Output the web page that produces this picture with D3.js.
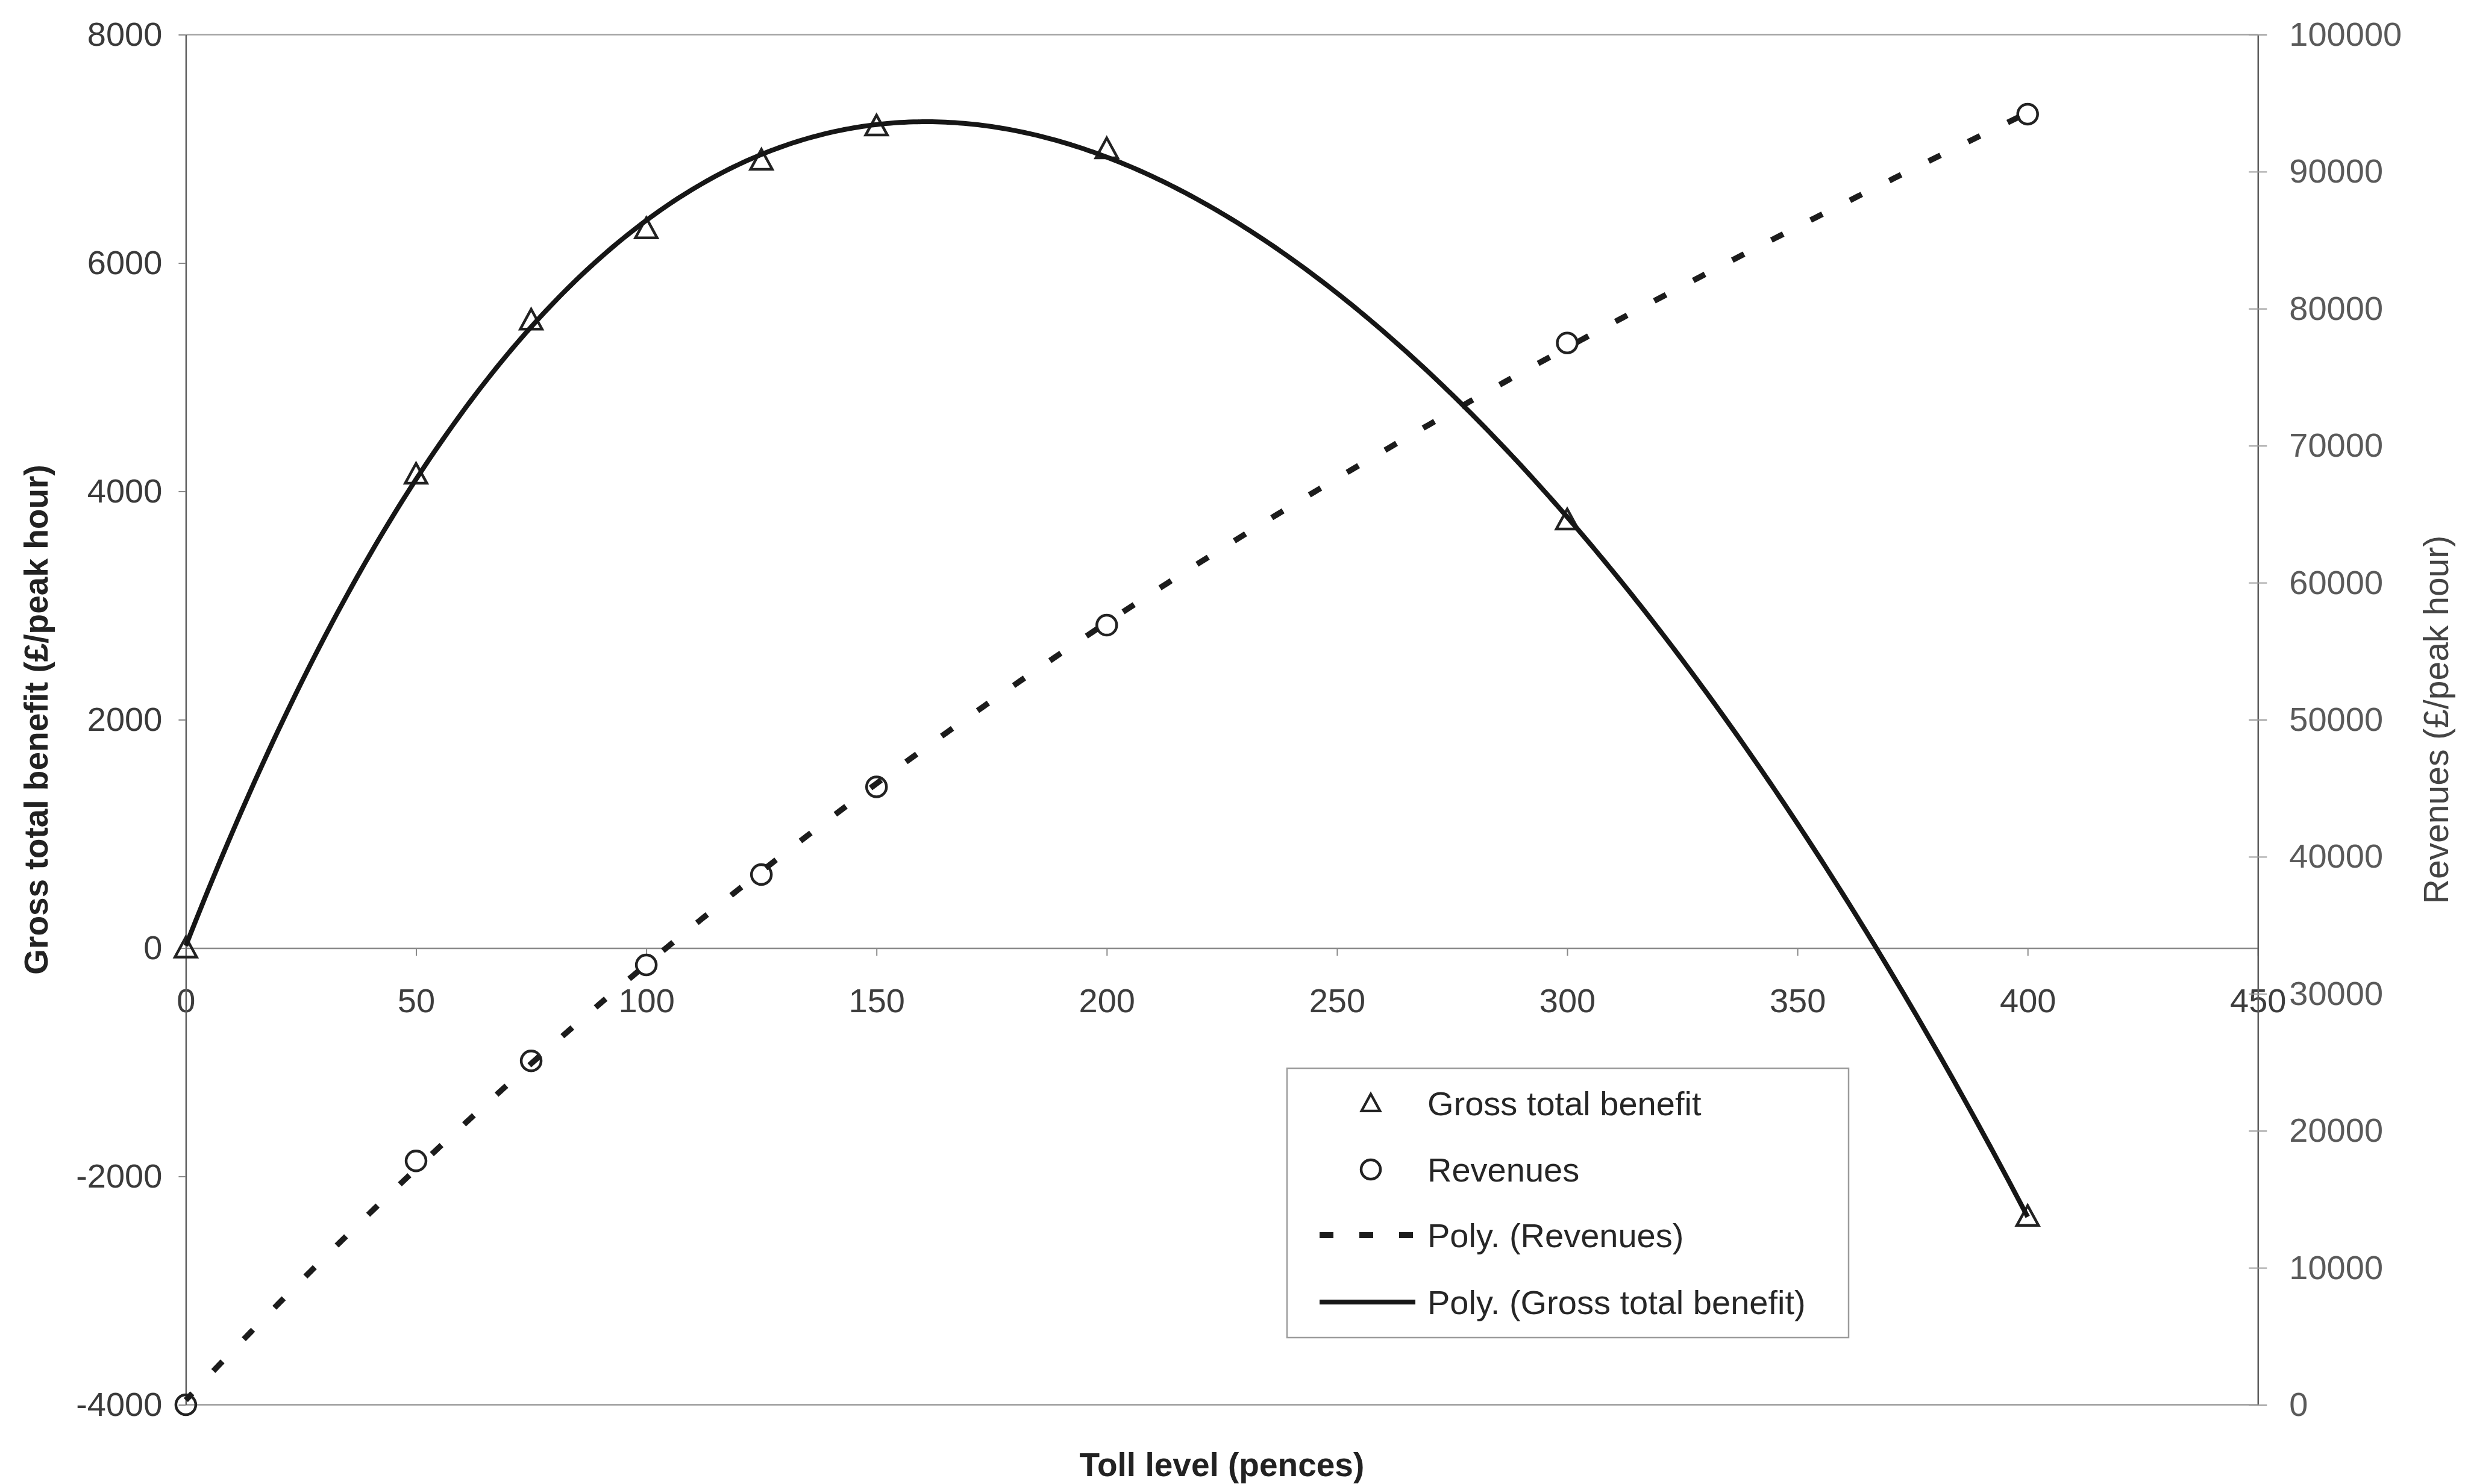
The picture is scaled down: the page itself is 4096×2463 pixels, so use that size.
<!DOCTYPE html>
<html>
<head>
<meta charset="utf-8">
<script src="https://cdn.jsdelivr.net/npm/d3@7"></script>
<style>
  html, body { margin: 0; padding: 0; background: #ffffff; }
  svg { display: block; }
  text { font-family: "Liberation Sans", Arial, Helvetica, sans-serif; }
</style>
</head>
<body>
<script>
// Toll levels (pence) and the two observed series
const tollLevels   = [0, 50, 75, 100, 125, 150, 200, 300, 400];
const grossBenefit = [0, 4150, 5500, 6300, 6900, 7200, 7000, 3750, -2350];   // £/peak hour, left axis
const revenues     = [0, 17800, 25100, 32100, 38700, 45100, 56900, 77500, 94200]; // £/peak hour, right axis

// Axis ticks
const xTicks     = [0, 50, 100, 150, 200, 250, 300, 350, 400, 450];
const leftTicks  = [-4000, -2000, 0, 2000, 4000, 6000, 8000];
const rightTicks = [0, 10000, 20000, 30000, 40000, 50000, 60000, 70000, 80000, 90000, 100000];

// Titles and legend
const xTitle = "Toll level (pences)";
const leftTitle = "Gross total benefit (£/peak hour)";
const rightTitle = "Revenues (£/peak hour)";
const legendLabels = ["Gross total benefit", "Revenues", "Poly. (Revenues)", "Poly. (Gross total benefit)"];

// Polynomial trendline orders
const revenueOrder = 3;
const benefitOrder = 4;

const W = 4096, H = 2463;
const plot = { left: 308.4, right: 3747.3, top: 57.5, bottom: 2331.5 };
const plainNumber = d => String(d);

const svg = d3.select("body").append("svg")
  .attr("width", W).attr("height", H)
  .attr("viewBox", `0 0 ${W} ${H}`);

svg.append("rect").attr("width", W).attr("height", H).attr("fill", "#ffffff");

const x  = d3.scaleLinear().domain([0, 450]).range([plot.left, plot.right]);
const yL = d3.scaleLinear().domain([-4000, 8000]).range([plot.bottom, plot.top]);
const yR = d3.scaleLinear().domain([0, 100000]).range([plot.bottom, plot.top]);

// Least-squares polynomial fit (normal equations, scaled abscissa)
function polyFit(xs, ys, deg) {
  const s = 100, n = deg + 1;
  const A = Array.from({ length: n }, () => new Array(n + 1).fill(0));
  xs.forEach((xv, i) => {
    const t = xv / s;
    for (let r = 0; r < n; r++) {
      for (let c = 0; c < n; c++) A[r][c] += Math.pow(t, r + c);
      A[r][n] += ys[i] * Math.pow(t, r);
    }
  });
  for (let i = 0; i < n; i++) {
    let p = i;
    for (let k = i + 1; k < n; k++) if (Math.abs(A[k][i]) > Math.abs(A[p][i])) p = k;
    [A[i], A[p]] = [A[p], A[i]];
    for (let k = i + 1; k < n; k++) {
      const f = A[k][i] / A[i][i];
      for (let c = i; c <= n; c++) A[k][c] -= f * A[i][c];
    }
  }
  const coef = new Array(n).fill(0);
  for (let i = n - 1; i >= 0; i--) {
    let v = A[i][n];
    for (let c = i + 1; c < n; c++) v -= A[i][c] * coef[c];
    coef[i] = v / A[i][i];
  }
  return xv => coef.reduce((acc, c, k) => acc + c * Math.pow(xv / s, k), 0);
}

const revFit = polyFit(tollLevels, revenues, revenueOrder);
const benFit = polyFit(tollLevels, grossBenefit, benefitOrder);
const xMin = d3.min(tollLevels), xMax = d3.max(tollLevels);
const fitX = d3.range(xMin, xMax + 0.001, 1);

// Frame: top and bottom borders
svg.append("line")
  .attr("x1", plot.left).attr("x2", plot.right)
  .attr("y1", plot.top).attr("y2", plot.top)
  .attr("stroke", "#a3a3a3").attr("stroke-width", 2.5);
svg.append("line")
  .attr("x1", plot.left).attr("x2", plot.right)
  .attr("y1", plot.bottom).attr("y2", plot.bottom)
  .attr("stroke", "#9a9a9a").attr("stroke-width", 2.5);

const tickFont = 56;

// Horizontal axis, crossing at zero on the left scale
const gx = svg.append("g")
  .attr("transform", `translate(0,${yL(0)})`)
  .call(d3.axisBottom(x).tickValues(xTicks).tickFormat(plainNumber)
    .tickSize(13).tickSizeOuter(0).tickPadding(54));
gx.select(".domain").attr("stroke", "#8a8a8a").attr("stroke-width", 2.5);
gx.selectAll(".tick line").attr("stroke", "#8a8a8a").attr("stroke-width", 2);
gx.selectAll(".tick text").attr("font-size", tickFont).attr("fill", "#3d3d3d")
  .attr("font-family", "'Liberation Sans', Arial, sans-serif");

// Left axis
const gl = svg.append("g")
  .attr("transform", `translate(${plot.left},0)`)
  .call(d3.axisLeft(yL).tickValues(leftTicks).tickFormat(plainNumber)
    .tickSize(12).tickSizeOuter(0).tickPadding(27));
gl.select(".domain").attr("stroke", "#5e5e5e").attr("stroke-width", 2.5);
gl.selectAll(".tick line").attr("stroke", "#8a8a8a").attr("stroke-width", 2);
gl.selectAll(".tick text").attr("font-size", tickFont).attr("fill", "#3a3a3a")
  .attr("font-family", "'Liberation Sans', Arial, sans-serif");

// Right axis
const gr = svg.append("g")
  .attr("transform", `translate(${plot.right},0)`)
  .call(d3.axisRight(yR).tickValues(rightTicks).tickFormat(plainNumber)
    .tickSize(15).tickSizeOuter(0).tickPadding(37));
gr.select(".domain").attr("stroke", "#5e5e5e").attr("stroke-width", 2.5);
gr.selectAll(".tick line").attr("x1", -15).attr("stroke", "#9a9a9a").attr("stroke-width", 2);
gr.selectAll(".tick text").attr("font-size", tickFont).attr("fill", "#5a5a5a")
  .attr("font-family", "'Liberation Sans', Arial, sans-serif");

// Axis titles
svg.append("text")
  .attr("x", x(225)).attr("y", 2431).attr("dy", "0.35em")
  .attr("text-anchor", "middle").attr("font-size", 55).attr("font-weight", "bold")
  .attr("fill", "#222").text(xTitle);

svg.append("text")
  .attr("transform", `translate(60,${(plot.top + plot.bottom) / 2}) rotate(-90)`)
  .attr("dy", "0.35em")
  .attr("text-anchor", "middle").attr("font-size", 55).attr("font-weight", "bold")
  .attr("fill", "#222").text(leftTitle);

svg.append("text")
  .attr("transform", `translate(4043,${(plot.top + plot.bottom) / 2}) rotate(-90)`)
  .attr("dy", "0.35em")
  .attr("text-anchor", "middle").attr("font-size", 57)
  .attr("fill", "#444").text(rightTitle);

// Markers (hollow)
const markerStroke = "#222";
const triPath = "M0,-18L18,15L-18,15Z";

svg.append("g").selectAll("path")
  .data(tollLevels.map((t, i) => [t, grossBenefit[i]]))
  .join("path")
  .attr("d", triPath)
  .attr("transform", d => `translate(${x(d[0])},${yL(d[1])})`)
  .attr("fill", "none").attr("stroke", markerStroke).attr("stroke-width", 4.5)
  .attr("stroke-linejoin", "miter");

svg.append("g").selectAll("circle")
  .data(tollLevels.map((t, i) => [t, revenues[i]]))
  .join("circle")
  .attr("cx", d => x(d[0])).attr("cy", d => yR(d[1])).attr("r", 16.5)
  .attr("fill", "none").attr("stroke", markerStroke).attr("stroke-width", 4.5);

// Trendlines
const revLine = d3.line().x(d => x(d)).y(d => yR(revFit(d)));
const benLine = d3.line().x(d => x(d)).y(d => yL(benFit(d)));

svg.append("path")
  .attr("d", revLine(fitX))
  .attr("fill", "none").attr("stroke", "#1c1c1c").attr("stroke-width", 9.5)
  .attr("stroke-dasharray", "22 51").attr("stroke-dashoffset", 6.5);

svg.append("path")
  .attr("d", benLine(fitX))
  .attr("fill", "none").attr("stroke", "#161616").attr("stroke-width", 8)
  .attr("stroke-linejoin", "round");

// Legend
const lg = svg.append("g");
const box = { x: 2136, y: 1773, w: 932, h: 447 };
lg.append("rect")
  .attr("x", box.x).attr("y", box.y).attr("width", box.w).attr("height", box.h)
  .attr("fill", "#ffffff").attr("stroke", "#9c9c9c").attr("stroke-width", 2.5);

const rowY = [1831, 1941, 2050, 2161];
const symX = 2275, textX = 2369, lineX0 = 2190, lineX1 = 2349;

lg.append("path").attr("d", triPath)
  .attr("transform", `translate(${symX},${rowY[0]}) scale(0.85)`)
  .attr("fill", "none").attr("stroke", markerStroke).attr("stroke-width", 5);
lg.append("circle").attr("cx", symX).attr("cy", rowY[1]).attr("r", 16)
  .attr("fill", "none").attr("stroke", markerStroke).attr("stroke-width", 4.5);
lg.append("line").attr("x1", lineX0).attr("x2", lineX1).attr("y1", rowY[2]).attr("y2", rowY[2])
  .attr("stroke", "#1c1c1c").attr("stroke-width", 10).attr("stroke-dasharray", "23 43");
lg.append("line").attr("x1", lineX0).attr("x2", lineX1).attr("y1", rowY[3]).attr("y2", rowY[3])
  .attr("stroke", "#161616").attr("stroke-width", 8);

lg.selectAll("text.lbl")
  .data(legendLabels)
  .join("text")
  .attr("class", "lbl")
  .attr("x", textX).attr("y", (d, i) => rowY[i]).attr("dy", "0.36em")
  .attr("font-size", 56).attr("fill", "#262626")
  .text(d => d);
</script>
</body>
</html>
